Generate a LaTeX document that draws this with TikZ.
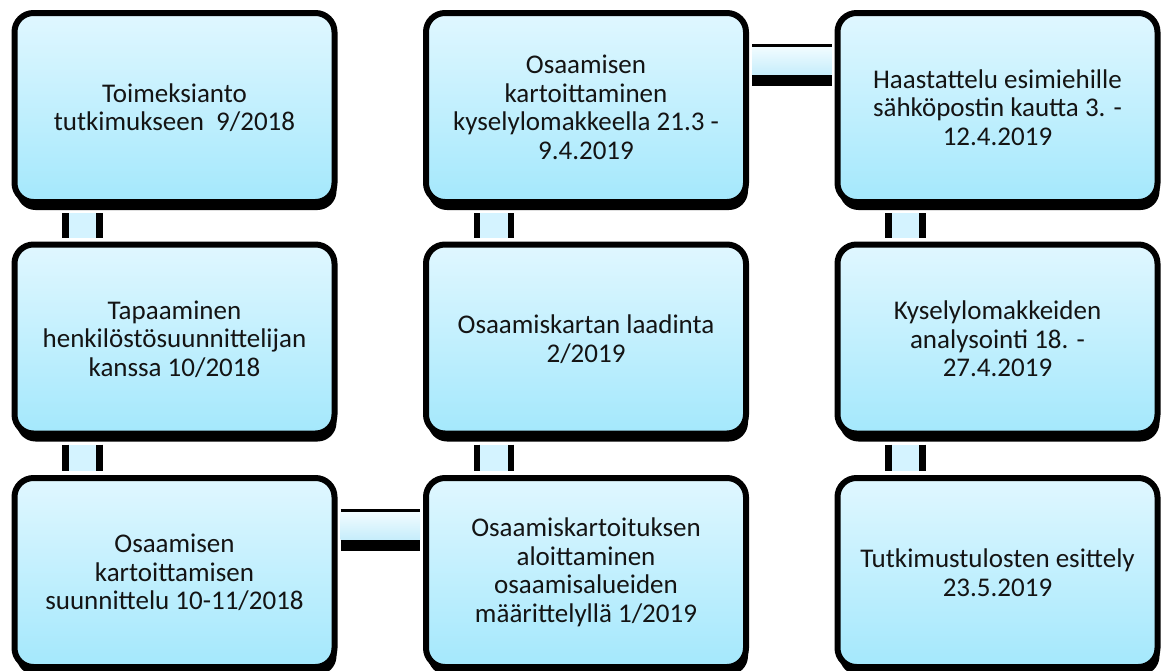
\documentclass[tikz,border=0pt]{standalone}
\usepackage{fontspec}
\setmainfont{Carlito}
\usetikzlibrary{shadows}
\definecolor{boxtop}{RGB}{224,247,255}
\definecolor{boxbot}{RGB}{164,232,252}
\definecolor{vfillc}{RGB}{212,243,255}
\definecolor{htop}{RGB}{242,252,255}
\definecolor{hbot}{RGB}{198,237,251}
\definecolor{txt}{RGB}{20,20,20}
\tikzset{
  box/.style={draw=black, line width=6pt, rounded corners=19pt,
    top color=boxtop, bottom color=boxbot,
    minimum width=320pt, minimum height=189pt, outer sep=0pt,
    align=center, text=txt, font=\fontsize{27}{28.5}\selectfont,
    drop shadow={fill=black, opacity=1, shadow xshift=2pt, shadow yshift=-8pt}},
  vfill/.style={fill=vfillc},
  bar/.style={draw=black, line width=6.5pt},
  hfill/.style={top color=htop, bottom color=hbot, draw=none},
  thinbar/.style={draw=black, line width=3pt},
  thickbar/.style={draw=black, line width=11pt}
}
\newcommand\vlink[2]{%
  \fill[vfill] ([xshift=-106pt,yshift=-11pt]#1.south) rectangle ([xshift=-78pt,yshift=7pt]#2.north);
  \draw[bar] ([xshift=-109pt,yshift=-11pt]#1.south) -- ([xshift=-109pt,yshift=7pt]#2.north);
  \draw[bar] ([xshift=-75pt,yshift=-11pt]#1.south) -- ([xshift=-75pt,yshift=7pt]#2.north);}
\newcommand\hlink[2]{%
  \shade[hfill] ([xshift=6pt,yshift=61pt]#1.east) rectangle ([xshift=-6pt,yshift=33pt]#2.west);
  \draw[thinbar] ([xshift=6pt,yshift=62.5pt]#1.east) -- ([xshift=-6pt,yshift=62.5pt]#2.west);
  \draw[thickbar] ([xshift=6pt,yshift=27.5pt]#1.east) -- ([xshift=-6pt,yshift=27.5pt]#2.west);}
\begin{document}
\begin{tikzpicture}[x=1pt,y=-1pt]
\useasboundingbox (0,0) rectangle (1163,670);
\fill[white] (0,0) rectangle (1163,670);
% column 1
\node[box] (b11) at (174.5,107.5) {Toimeksianto\\tutkimukseen\ \ 9/2018};
\node[box] (b21) at (174.5,339) {Tapaaminen\\henkilöstösuunnittelijan\\kanssa 10/2018};
\node[box] (b31) at (174.5,572.5) {Osaamisen\\kartoittamisen\\suunnittelu 10-11/2018};
% column 2
\node[box] (b12) at (586,107.5) {Osaamisen\\kartoittaminen\\kyselylomakkeella 21.3 -\\9.4.2019};
\node[box] (b22) at (586,339) {Osaamiskartan laadinta\\2/2019};
\node[box] (b32) at (586,572.5) {Osaamiskartoituksen\\aloittaminen\\osaamisalueiden\\määrittelyllä 1/2019};
% column 3
\node[box] (b13) at (997.5,107.5) {Haastattelu esimiehille\\sähköpostin kautta 3. -\\12.4.2019};
\node[box] (b23) at (997.5,339) {Kyselylomakkeiden\\analysointi 18. -\\27.4.2019};
\node[box] (b33) at (997.5,572.5) {Tutkimustulosten esittely\\23.5.2019};
% connectors
\vlink{b11}{b21}
\vlink{b21}{b31}
\vlink{b12}{b22}
\vlink{b22}{b32}
\vlink{b13}{b23}
\vlink{b23}{b33}
\hlink{b31}{b32}
\hlink{b12}{b13}
\end{tikzpicture}
\end{document}
